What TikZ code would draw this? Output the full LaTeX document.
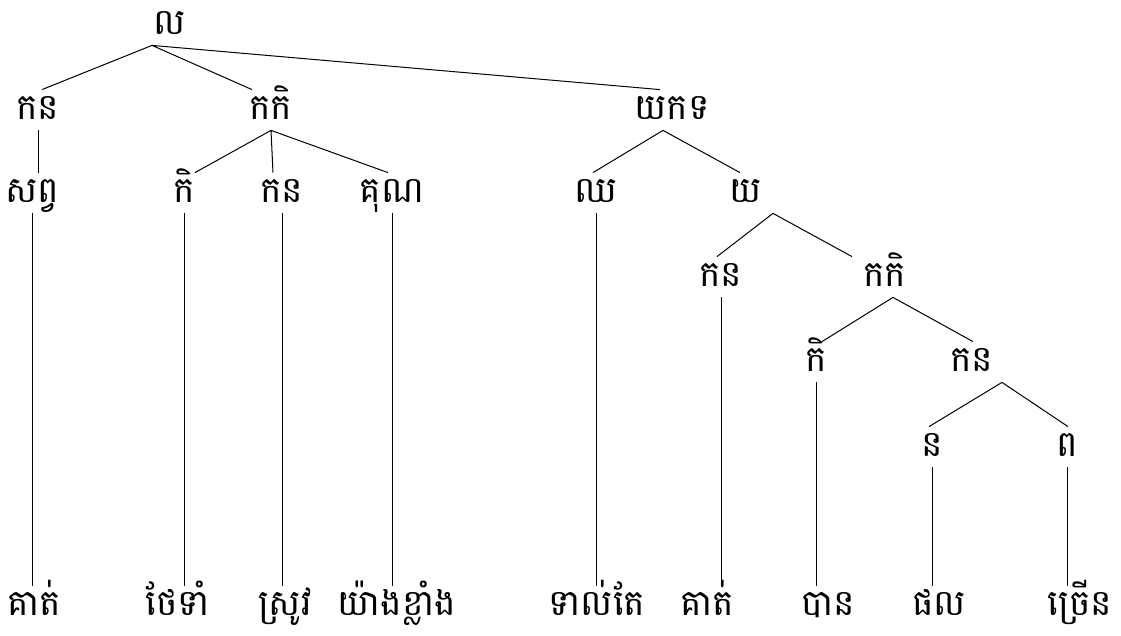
\documentclass[tikz,border=0pt]{standalone}
\usepackage{fontspec}
\newfontfamily\khmerfont[Script=Khmer]{Battambang}
\usetikzlibrary{calc}

\tikzset{
	word/.style={anchor=base, inner sep=0pt, text height=15pt, text depth=5pt,
		font=\khmerfont\fontsize{18}{22}\selectfont},
	branch/.style={line width=0.5pt}
}

\begin{document}
\begin{tikzpicture}[x=0.5pt, y=-0.5pt]
	\useasboundingbox (0,0) rectangle (1121,636);

	\node[word] (root) at (170,35) {ល};

	\node[word] (kan1) at (38,120) {កន};
	\node[word] (kaki1) at (271,120) {កកិ};
	\node[word] (yakat) at (672,120) {យកទ};

	\node[word] (sap) at (32,203) {សព្វ};
	\node[word] (ki1) at (184,203) {កិ};
	\node[word] (kan2) at (282,203) {កន};
	\node[word] (kun) at (392,203) {គុណ};
	\node[word] (chho) at (596,203) {ឈ};
	\node[word] (yo) at (746,203) {យ};

	\node[word] (kan3) at (721,287) {កន};
	\node[word] (kaki2) at (885,287) {កកិ};

	\node[word] (ki2) at (816,372) {កិ};
	\node[word] (kan4) at (972,372) {កន};

	\node[word] (no) at (932,457) {ន};
	\node[word] (po) at (1067,457) {ព};

	% leaves
	\node[word] (gat1) at (34,616) {គាត់};
	\node[word] (thae) at (178,616) {ថែទាំ};
	\node[word] (srov) at (285,616) {ស្រូវ};
	\node[word] (yang) at (397,616) {យ៉ាងខ្លាំង};
	\node[word] (teal) at (597,616) {ទាល់តែ};
	\node[word] (gat2) at (707,616) {គាត់};
	\node[word] (ban) at (828,616) {បាន};
	\node[word] (phal) at (939,616) {ផល};
	\node[word] (craen) at (1080,616) {ច្រើន};

	\draw[branch]
		($(root.south)+(-18,0)$) -- ($(kan1.north)+(4,0)$)
		($(root.south)+(-18,0)$) -- ($(kaki1.north)+(-19,0)$)
		($(root.south)+(-18,0)$) -- ($(yakat.north)+(-12,0)$)

		(kaki1.south) -- ($(ki1.north)+(11,0)$)
		(kaki1.south) -- ($(kan2.north)+(-9,0)$)
		(kaki1.south) -- ($(kun.north)+(-4,0)$)
		($(yakat.south)+(-9,0)$) -- ($(chho.north)+(-3,0)$)
		($(yakat.south)+(-9,0)$) -- ($(yo.north)+(-6,0)$)

		($(yo.south)+(27,0)$) -- ($(kan3.north)+(-4,0)$)
		($(yo.south)+(27,0)$) -- ($(kaki2.north)+(-33,0)$)
		($(kaki2.south)+(8,0)$) -- ($(ki2.north)+(6,0)$)
		($(kaki2.south)+(8,0)$) -- ($(kan4.north)+(1,0)$)
		($(kan4.south)+(30,0)$) -- ($(no.north)+(-3,0)$)
		($(kan4.south)+(30,0)$) -- ($(po.north)+(1,0)$)
		;

	% straight drops
	\draw[branch]
		(kan1.south) -- (kan1.south |- sap.north)
		(sap.south) -- (sap.south |- gat1.north)
		(ki1.south) -- (ki1.south |- thae.north)
		(kan2.south) -- (kan2.south |- srov.north)
		(kun.south) -- (kun.south |- yang.north)
		(chho.south) -- (chho.south |- teal.north)
		(kan3.south) -- (kan3.south |- gat2.north)
		(ki2.south) -- (ki2.south |- ban.north)
		(no.south) -- (no.south |- phal.north)
		(po.south) -- (po.south |- craen.north)
		;
\end{tikzpicture}
\end{document}
